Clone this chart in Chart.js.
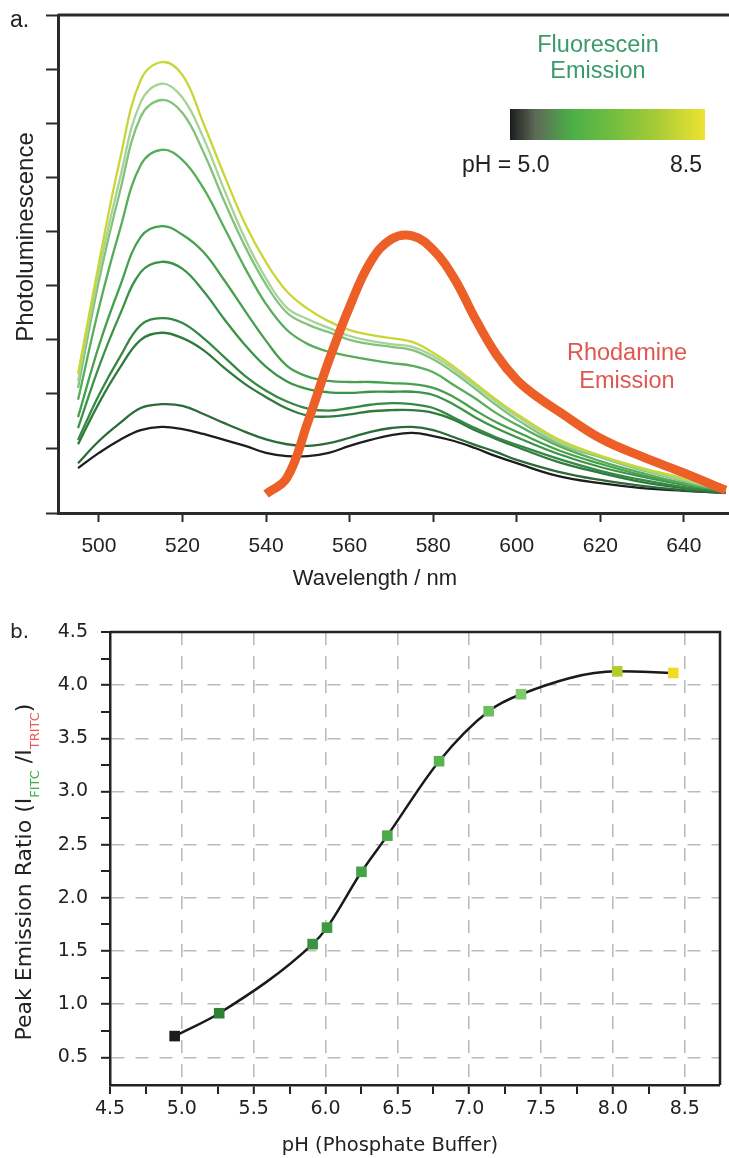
<!DOCTYPE html>
<html>
<head>
<meta charset="utf-8">
<script src="https://cdn.jsdelivr.net/npm/chart.js@4/dist/chart.umd.min.js"></script>
<style>
  body { margin: 0; background: #fff; }
  #page { position: relative; width: 729px; height: 1158px; overflow: hidden; color: #222; }
  canvas { position: absolute; left: 0; }
  #chartA { top: 0; }
  #chartB { top: 600px; }
  .txt { position: absolute; white-space: nowrap; font-family: "Liberation Sans", Arial, sans-serif; }
  .dv { font-family: "DejaVu Sans", Verdana, sans-serif; }
  .rot { transform: rotate(-90deg); transform-origin: 50% 50%; text-align: center; }
  #bar { position: absolute; left: 510px; top: 109px; width: 195px; height: 31px;
    background: linear-gradient(to right, #1c1c1c 0%, #5e6a5a 13%, #4bb047 32%, #70bd40 52%, #a9cc36 76%, #eee332 100%); }
</style>
</head>
<body>
<div id="page">
  <canvas id="chartA" width="729" height="600"></canvas>
  <canvas id="chartB" width="729" height="558"></canvas>

  <div class="txt" style="left:10px; top:6px; font-size:23px; line-height:26px;">a.</div>
  <div class="txt" style="left:498px; top:31px; width:200px; text-align:center; font-size:23.5px; line-height:26px; color:#3a9a6c;">Fluorescein<br>Emission</div>
  <div id="bar"></div>
  <div class="txt" style="left:462px; top:151px; font-size:23px; line-height:26px;">pH = 5.0</div>
  <div class="txt" style="left:602px; top:151px; width:100px; text-align:right; font-size:23px; line-height:26px;">8.5</div>
  <div class="txt" style="left:527px; top:338px; width:200px; text-align:center; font-size:23.5px; line-height:28px; color:#e05650;">Rhodamine<br>Emission</div>
  <div class="txt" style="left:275px; top:565px; width:200px; text-align:center; font-size:22px; line-height:26px;">Wavelength / nm</div>
  <div class="txt rot" style="left:-125px; top:222px; width:300px; height:30px; font-size:24px; line-height:30px;">Photoluminescence</div>

  <div class="txt dv" style="left:10px; top:619px; font-size:20px; line-height:24px;">b.</div>
  <div class="txt dv" style="left:240px; top:1133px; width:300px; text-align:center; font-size:19.5px; line-height:24px;">pH (Phosphate Buffer)</div>
  <div class="txt dv rot" style="left:-186px; top:857px; width:420px; height:30px; font-size:22px; line-height:30px;">Peak Emission Ratio (I<span style="font-size:13px; vertical-align:-8px; color:#3fae49;">FITC</span> /I<span style="font-size:13px; vertical-align:-8px; color:#e85a5a;">TRITC</span>)</div>
</div>

<script>
// spectra (a)
const wavelengths = [495, 500, 505, 510, 515, 520, 525, 530, 535, 540, 545, 550, 555, 560, 565, 570, 575, 580, 585, 590, 595, 600, 610, 620, 630, 640, 650];
const fitc1 = [6.3, 9.1, 11.5, 13.3, 13.9, 13.5, 12.6, 11.5, 10.4, 9.1, 8.5, 8.5, 9.1, 10.4, 11.5, 12.4, 12.8, 12.2, 11.3, 10.0, 8.5, 7.2, 4.8, 3.5, 2.6, 2.1, 1.7];
const fitc2 = [7.2, 11.3, 14.6, 17.4, 18.1, 17.8, 16.3, 14.6, 13.0, 11.6, 10.7, 10.4, 10.9, 11.9, 13.0, 13.7, 13.9, 13.3, 12.0, 10.6, 9.3, 7.8, 5.6, 4.1, 3.0, 2.2, 1.7];
const fitc3 = [10.7, 18.3, 24.8, 30.0, 31.3, 30.3, 28.1, 24.8, 21.8, 19.4, 17.3, 16.0, 15.8, 16.2, 16.8, 17.0, 17.0, 16.5, 15.2, 13.3, 11.7, 10.2, 7.4, 5.4, 3.7, 2.6, 1.9];
const fitc4 = [11.5, 19.8, 26.8, 32.7, 34.0, 33.1, 30.3, 26.8, 23.3, 20.6, 18.6, 17.3, 16.9, 17.4, 18.0, 18.3, 18.1, 17.4, 15.6, 13.7, 12.0, 10.6, 8.0, 5.8, 4.1, 2.8, 1.9];
const fitc5 = [13.7, 25.0, 34.6, 42.5, 44.4, 43.1, 39.0, 33.8, 29.0, 25.0, 22.3, 20.9, 20.3, 20.2, 20.4, 20.4, 20.4, 19.8, 18.0, 15.7, 13.7, 12.0, 8.9, 6.5, 4.7, 3.2, 2.1];
const fitc6 = [15.7, 28.9, 39.8, 49.0, 51.0, 49.4, 46.2, 41.0, 35.3, 29.8, 25.2, 23.2, 22.4, 22.2, 22.2, 22.0, 21.8, 21.1, 19.4, 17.0, 14.8, 13.0, 9.6, 7.1, 5.0, 3.4, 2.1];
const fitc7 = [18.9, 35.9, 50.3, 62.3, 65.1, 63.2, 58.0, 50.7, 43.2, 36.6, 31.8, 29.2, 27.8, 27.0, 26.3, 25.7, 25.2, 24.0, 21.6, 19.2, 16.5, 14.3, 10.4, 7.6, 5.4, 3.5, 2.1];
const fitc8 = [21.1, 40.9, 57.3, 71.2, 74.3, 71.9, 64.7, 55.6, 47.2, 40.2, 35.0, 32.8, 31.4, 30.0, 29.2, 28.7, 28.1, 26.4, 23.9, 21.0, 18.0, 15.3, 10.8, 8.3, 5.9, 3.9, 2.1];
const fitc9 = [22.4, 42.7, 59.7, 73.9, 77.3, 74.7, 67.3, 57.7, 48.6, 41.3, 35.9, 33.8, 32.2, 30.7, 29.8, 29.2, 28.7, 27.0, 24.5, 21.6, 18.6, 15.9, 11.2, 8.5, 6.1, 4.1, 2.1];
const fitc10 = [23.7, 44.2, 63.2, 78.0, 81.3, 78.9, 70.0, 60.4, 51.4, 44.3, 38.9, 35.7, 33.4, 31.8, 30.9, 30.3, 29.6, 27.6, 25.0, 22.0, 19.0, 16.3, 11.6, 8.6, 6.3, 4.4, 2.3];
const rhodWavelengths = [540, 545, 550, 555, 560, 565, 570, 575, 580, 585, 590, 595, 600, 605, 610, 620, 630, 640, 650];
const rhodamine = [1.5, 4.5, 14.8, 26.1, 36.1, 44.4, 48.6, 49.2, 46.6, 41.4, 34.0, 27.4, 22.6, 19.4, 16.8, 11.8, 8.4, 5.4, 2.2];
const wavelengthTicks = [500, 520, 540, 560, 580, 600, 620, 640];
const intensityTicks = [-2, 10, 20, 30, 40, 50, 60, 70, 80, 90];

// ratio vs pH (b)
const phValues = [4.95, 5.26, 5.91, 6.01, 6.25, 6.43, 6.79, 7.135, 7.36, 8.03, 8.42];
const ratioValues = [0.70, 0.915, 1.565, 1.72, 2.245, 2.585, 3.285, 3.755, 3.915, 4.13, 4.115];
const phTicks = [4.5, 4.75, 5.0, 5.25, 5.5, 5.75, 6.0, 6.25, 6.5, 6.75, 7.0, 7.25, 7.5, 7.75, 8.0, 8.25, 8.5];
const ratioTicks = [0.5, 0.75, 1.0, 1.25, 1.5, 1.75, 2.0, 2.25, 2.5, 2.75, 3.0, 3.25, 3.5, 3.75, 4.0, 4.25, 4.5];

const spectrumColors = ["#1e1e1e", "#2c6b38", "#2f7a3d", "#368843", "#3c9347", "#46a04d", "#58ad5a", "#82c27d", "#a6d396", "#c9d637"];
const pointColors = ["#1c1c1c", "#2f7f35", "#3a9140", "#3d9a42", "#45a345", "#4aab48", "#57b451", "#6cbf5f", "#7ec86d", "#b2cc2e", "#f0dc26"];

const fontA = '"Liberation Sans", Arial, sans-serif';
const fontB = '"DejaVu Sans", Verdana, sans-serif';

function fixedTicks(values) {
  return function (scale) {
    scale.ticks = values.map(function (v) {
      return { value: v };
    });
  };
}

function toPoints(xs, ys) {
  return ys.map(function (y, i) {
    return { x: xs[i], y: y };
  });
}

function isHalf(v) {
  return Math.abs(v * 2 - Math.round(v * 2)) < 1e-6;
}

// top frame line of chart a
const topLine = {
  id: "topLine",
  afterDraw(chart) {
    const a = chart.chartArea;
    const c = chart.ctx;
    c.save();
    c.strokeStyle = "#2a2a2a";
    c.lineWidth = 3;
    c.beginPath();
    c.moveTo(a.left, a.top);
    c.lineTo(a.right, a.top);
    c.stroke();
    c.restore();
  },
};

// top + right frame of chart b
const boxFrame = {
  id: "boxFrame",
  afterDraw(chart) {
    const a = chart.chartArea;
    const c = chart.ctx;
    c.save();
    c.strokeStyle = "#222";
    c.lineWidth = 2.5;
    c.beginPath();
    c.moveTo(a.left, a.top);
    c.lineTo(a.right, a.top);
    c.lineTo(a.right, a.bottom);
    c.stroke();
    c.restore();
  },
};

const fitcSeries = [fitc10, fitc9, fitc8, fitc7, fitc6, fitc5, fitc4, fitc3, fitc2, fitc1];
const datasetsA = [
  {
    data: toPoints(rhodWavelengths, rhodamine),
    borderColor: "#ec5f27",
    borderWidth: 9,
    pointRadius: 0,
    tension: 0.4,
  },
];
fitcSeries.forEach(function (series, i) {
  datasetsA.push({
    data: toPoints(wavelengths, series),
    borderColor: spectrumColors[9 - i],
    borderWidth: 2.3,
    pointRadius: 0,
    tension: 0.4,
  });
});

const chartA = new Chart(document.getElementById("chartA").getContext("2d"), {
  type: "line",
  data: { datasets: datasetsA },
  plugins: [topLine],
  options: {
    responsive: false,
    animation: false,
    events: [],
    layout: { autoPadding: false, padding: { top: 15, right: 0, bottom: 0, left: 0 } },
    plugins: { legend: { display: false }, tooltip: { enabled: false } },
    scales: {
      x: {
        type: "linear",
        min: 490.2,
        max: 650.8,
        bounds: "data",
        afterBuildTicks: fixedTicks(wavelengthTicks),
        afterFit: function (s) {
          s.height = 87;
        },
        grid: { drawOnChartArea: false, tickLength: 9, tickColor: "#2a2a2a", tickWidth: 2 },
        border: { color: "#2a2a2a", width: 3 },
        ticks: { color: "#222", font: { family: fontA, size: 21 }, padding: 12, maxRotation: 0, autoSkip: false },
      },
      y: {
        min: -2,
        max: 90,
        bounds: "data",
        afterBuildTicks: fixedTicks(intensityTicks),
        afterFit: function (s) {
          s.width = 58;
        },
        grid: { drawOnChartArea: false, tickLength: 12, tickColor: "#2a2a2a", tickWidth: 2 },
        border: { color: "#2a2a2a", width: 3 },
        ticks: { display: false },
      },
    },
  },
});

const chartB = new Chart(document.getElementById("chartB").getContext("2d"), {
  type: "line",
  data: {
    datasets: [
      {
        type: "scatter",
        data: toPoints(phValues, ratioValues),
        pointStyle: "rect",
        pointRadius: 7.5,
        backgroundColor: pointColors,
        borderWidth: 0,
      },
      {
        data: toPoints(phValues, ratioValues),
        borderColor: "#1a1a1a",
        borderWidth: 2.5,
        pointRadius: 0,
        cubicInterpolationMode: "monotone",
      },
    ],
  },
  plugins: [boxFrame],
  options: {
    responsive: false,
    animation: false,
    events: [],
    layout: { autoPadding: false, padding: { top: 32, right: 9, bottom: 0, left: 0 } },
    plugins: { legend: { display: false }, tooltip: { enabled: false } },
    scales: {
      x: {
        type: "linear",
        min: 4.5,
        max: 8.745,
        bounds: "data",
        afterBuildTicks: fixedTicks(phTicks),
        afterFit: function (s) {
          s.height = 73;
        },
        grid: {
          color: function (ctx) {
            return ctx.tick && isHalf(ctx.tick.value) ? "#bcbcbc" : "rgba(0,0,0,0)";
          },
          lineWidth: function (ctx) {
            return ctx.tick && isHalf(ctx.tick.value) && ctx.tick.value > 4.5 ? 1.6 : 0;
          },
          tickLength: 9,
          tickColor: "#222",
          tickWidth: 2,
        },
        border: { color: "#222", width: 2.5, dash: [13, 11] },
        ticks: {
          color: "#222",
          font: { family: fontB, size: 19 },
          padding: 4,
          maxRotation: 0,
          autoSkip: false,
          callback: function (v) {
            return isHalf(v) ? v.toFixed(1) : "";
          },
        },
      },
      y: {
        min: 0.24,
        max: 4.5,
        bounds: "data",
        afterBuildTicks: fixedTicks(ratioTicks),
        afterFit: function (s) {
          s.width = 110;
        },
        grid: {
          color: function (ctx) {
            return ctx.tick && isHalf(ctx.tick.value) ? "#bcbcbc" : "rgba(0,0,0,0)";
          },
          lineWidth: function (ctx) {
            return ctx.tick && isHalf(ctx.tick.value) && ctx.tick.value < 4.5 ? 1.6 : 0;
          },
          tickLength: 9,
          tickColor: "#222",
          tickWidth: 2,
        },
        border: { color: "#222", width: 2.5, dash: [13, 11] },
        ticks: {
          color: "#222",
          font: { family: fontB, size: 19 },
          padding: 13,
          autoSkip: false,
          callback: function (v) {
            return isHalf(v) ? v.toFixed(1) : "";
          },
        },
      },
    },
  },
});
</script>
</body>
</html>
